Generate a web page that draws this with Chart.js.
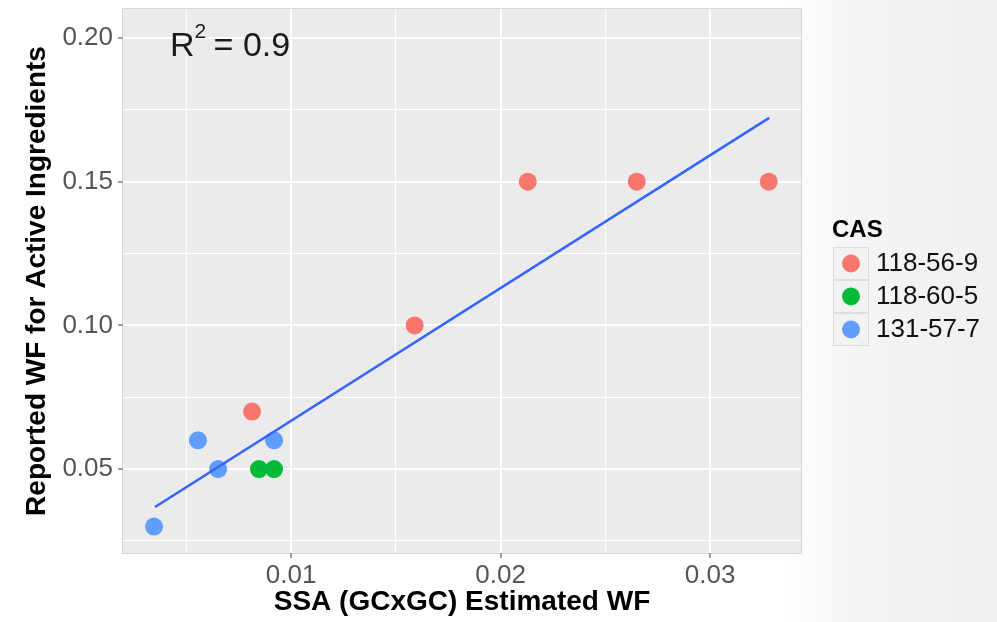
<!DOCTYPE html>
<html>
<head>
<meta charset="utf-8">
<script src="https://cdn.jsdelivr.net/npm/chart.js@4"></script>
<style>
  html, body { margin: 0; padding: 0; }
  body {
    width: 997px; height: 622px; overflow: hidden;
    background: linear-gradient(to right, #ffffff 0%, #ffffff 78%, #f4f5f5 86%, #eff0f0 100%);
  }
  #wrap { position: relative; width: 997px; height: 622px; }
</style>
</head>
<body>
<div id="wrap"><canvas id="chart" width="997" height="622"></canvas></div>
<script>
"use strict";

// 讀圖估值：SSA (GCxGC) 估計 WF vs 報告 WF
const CAS_LABELS = ["118-56-9", "118-60-5", "131-57-7"];
const CAS_COLORS = ["#F8766D", "#00BA38", "#619CFF"];

const RED_X = [0.00814, 0.0159, 0.0213, 0.0265, 0.0328];
const RED_Y = [0.07, 0.10, 0.15, 0.15, 0.15];
const GREEN_X = [0.00847, 0.00919];
const GREEN_Y = [0.05, 0.05];
const BLUE_X = [0.00346, 0.00556, 0.00652, 0.00919];
const BLUE_Y = [0.03, 0.06, 0.05, 0.06];

// 迴歸線兩端
const FIT_X = [0.00351, 0.03282];
const FIT_Y = [0.0368, 0.1722];

const X_TICKS = [0.01, 0.02, 0.03];
const X_MINOR = [0.005, 0.015, 0.025];
const Y_TICKS = [0.05, 0.10, 0.15, 0.20];
const Y_MINOR = [0.025, 0.075, 0.125, 0.175];

const X_RANGE = [0.00198, 0.03434];
const Y_RANGE = [0.0208, 0.2101];

const R2_TEXT = "0.9";
const FONT = "'Liberation Sans', Arial, sans-serif";

function pairs(xs, ys) { return xs.map((x, i) => ({ x, y: ys[i] })); }
function isMajor(list, v) { return list.some(t => Math.abs(t - v) < 1e-9); }

// ggplot 風格的圖例鍵：灰底方塊 + 圓點
function legendKey(color) {
  const c = document.createElement("canvas");
  c.width = 36; c.height = 33;
  const g = c.getContext("2d");
  g.fillStyle = "#dcdcdc";
  g.fillRect(0, 0, 36, 33);
  g.fillStyle = "#f2f2f2";
  g.fillRect(1, 1, 34, 31);
  g.fillStyle = color;
  g.beginPath();
  g.arc(18, 16.5, 9, 0, Math.PI * 2);
  g.fill();
  return c;
}
const LEGEND_KEYS = CAS_COLORS.map(legendKey);

const panelPlugin = {
  id: "panel",
  beforeDraw(chart) {
    const { ctx, chartArea: a } = chart;
    ctx.save();
    ctx.fillStyle = "#EBEBEB";
    ctx.fillRect(a.left, a.top, a.right - a.left, a.bottom - a.top);
    ctx.strokeStyle = "#d6d6d6";
    ctx.lineWidth = 1;
    ctx.strokeRect(a.left - 0.5, a.top - 0.5, a.right - a.left + 1, a.bottom - a.top + 1);
    ctx.restore();
  },
  afterDraw(chart) {
    const { ctx, scales } = chart;
    const x0 = scales.x.getPixelForValue(0.00422);
    const y0 = scales.y.getPixelForValue(0.1938);
    ctx.save();
    ctx.fillStyle = "#1a1a1a";
    ctx.textBaseline = "alphabetic";
    ctx.textAlign = "left";
    ctx.font = `34px ${FONT}`;
    ctx.fillText("R", x0, y0);
    let x = x0 + ctx.measureText("R").width;
    ctx.font = `21px ${FONT}`;
    ctx.fillText("2", x, y0 - 18);
    x += ctx.measureText("2").width;
    ctx.font = `34px ${FONT}`;
    ctx.fillText(" = " + R2_TEXT, x - 2, y0);
    ctx.restore();
  },
};

const tickFont = { family: FONT, size: 26 };
const titleFont = { family: FONT, size: 28, weight: "bold" };

function scatterSet(i, xs, ys) {
  return {
    label: CAS_LABELS[i],
    data: pairs(xs, ys),
    backgroundColor: CAS_COLORS[i],
    pointBackgroundColor: CAS_COLORS[i],
    pointStyle: "circle",
    pointRadius: 9,
    pointBorderWidth: 0,
    borderWidth: 0,
    order: 1,
  };
}

const ctx = document.getElementById("chart");
new Chart(ctx, {
  type: "scatter",
  data: {
    datasets: [
      {
        type: "line",
        label: "fit",
        data: pairs(FIT_X, FIT_Y),
        borderColor: "#3366FF",
        borderWidth: 2.6,
        pointRadius: 0,
        order: 0,
      },
      scatterSet(0, RED_X, RED_Y),
      scatterSet(1, GREEN_X, GREEN_Y),
      scatterSet(2, BLUE_X, BLUE_Y),
    ],
  },
  options: {
    responsive: false,
    animation: false,
    events: [],
    layout: { padding: { top: 8, right: 9, bottom: 0, left: 0 } },
    scales: {
      x: {
        type: "linear",
        min: X_RANGE[0], max: X_RANGE[1],
        afterBuildTicks: axis => {
          axis.ticks = X_MINOR.concat(X_TICKS).sort((a, b) => a - b).map(v => ({ value: v }));
        },
        afterFit: axis => { axis.height = 69; axis.paddingLeft = 0; axis.paddingRight = 0; },
        ticks: {
          font: tickFont, color: "#555555", padding: 2, maxRotation: 0, autoSkip: false,
          callback: v => isMajor(X_TICKS, v) ? v.toFixed(2) : "",
        },
        grid: {
          color: "#ffffff",
          lineWidth: c => (c.tick && isMajor(X_TICKS, c.tick.value)) ? 2 : 1,
          tickLength: 5,
          tickColor: c => (c.tick && isMajor(X_TICKS, c.tick.value)) ? "#7f7f7f" : "rgba(0,0,0,0)",
          tickWidth: 1.5,
        },
        border: { display: false },
        title: { display: true, text: "SSA (GCxGC) Estimated WF", font: titleFont, color: "#000", padding: { top: 0, bottom: 3 } },
      },
      y: {
        type: "linear",
        min: Y_RANGE[0], max: Y_RANGE[1],
        afterBuildTicks: axis => {
          axis.ticks = Y_MINOR.concat(Y_TICKS).sort((a, b) => a - b).map(v => ({ value: v }));
        },
        afterFit: axis => { axis.width = 123; axis.paddingTop = 0; axis.paddingBottom = 0; },
        ticks: {
          font: tickFont, color: "#555555", padding: 5, autoSkip: false,
          callback: v => isMajor(Y_TICKS, v) ? v.toFixed(2) : "",
        },
        grid: {
          color: "#ffffff",
          lineWidth: c => (c.tick && isMajor(Y_TICKS, c.tick.value)) ? 2 : 1,
          tickLength: 5,
          tickColor: c => (c.tick && isMajor(Y_TICKS, c.tick.value)) ? "#7f7f7f" : "rgba(0,0,0,0)",
          tickWidth: 1.5,
        },
        border: { display: false },
        title: { display: true, text: "Reported WF for Active Ingredients", font: titleFont, color: "#000", padding: { top: 20, bottom: 0 } },
      },
      spacer: {
        type: "linear",
        position: "right",
        display: true,
        grid: { display: false, drawTicks: false },
        ticks: { display: false },
        border: { display: false },
        afterFit: axis => { axis.width = 31; axis.paddingTop = 0; axis.paddingBottom = 0; },
      },
    },
    plugins: {
      tooltip: { enabled: false },
      legend: {
        position: "right",
        align: "center",
        fullSize: false,
        maxWidth: 156,
        title: {
          display: true, text: "CAS", position: "start", color: "#000",
          font: { family: FONT, size: 24, weight: "bold" },
          padding: { top: 6, bottom: -4 },
        },
        labels: {
          usePointStyle: true,
          pointStyleWidth: 24,
          padding: 7,
          color: "#111",
          font: { family: FONT, size: 26 },
          generateLabels: chart => Chart.defaults.plugins.legend.labels.generateLabels(chart)
            .filter(item => item.text !== "fit")
            .map(item => Object.assign(item, { pointStyle: LEGEND_KEYS[CAS_LABELS.indexOf(item.text)] })),
        },
      },
    },
  },
  plugins: [panelPlugin],
});
</script>
</body>
</html>
